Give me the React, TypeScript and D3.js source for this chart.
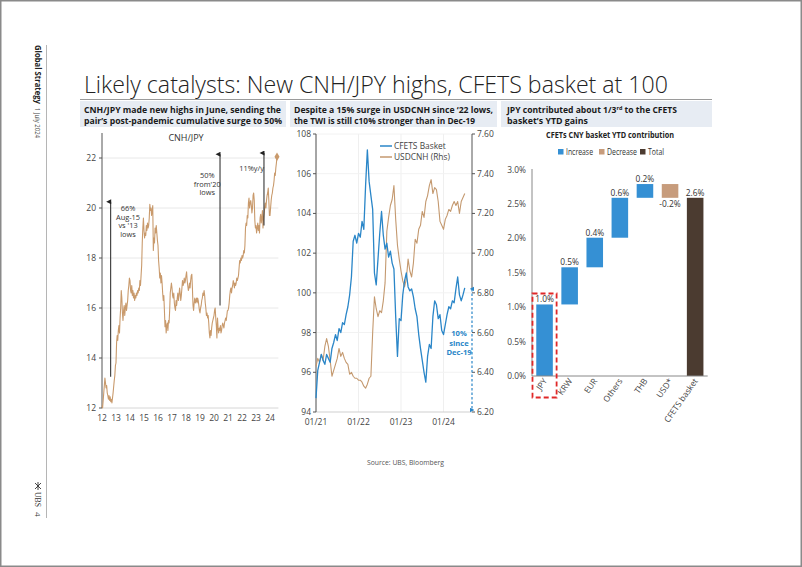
import React from "react";
import * as d3 from "d3";

const FONT = "'Open Sans', 'Noto Sans', 'DejaVu Sans', sans-serif";

// ---------- CNH/JPY (semi-monthly, from 2012.0) ----------
const cnhJpy2012 = [12.1, 12.0, 12.3, 12.6, 12.9, 13.2, 13.0, 12.8, 12.9, 12.6, 12.5, 12.35, 12.5, 12.3, 12.45, 12.25, 12.35, 12.2, 12.4, 12.6, 12.85, 13.1, 13.3, 13.7];
const cnhJpy2013 = [13.8, 14.6, 14.9, 14.7, 15.1, 15.3, 15.0, 15.6, 16.0, 16.7, 16.4, 15.8, 15.5, 15.9, 16.1, 15.7, 16.0, 16.2, 15.9, 16.1, 16.3, 16.7, 16.9, 17.2];
const cnhJpy2014 = [17.1, 16.7, 16.6, 16.9, 16.5, 16.7, 16.4, 16.6, 16.3, 16.5, 16.4, 16.6, 16.5, 16.7, 16.6, 16.8, 16.7, 17.1, 16.9, 17.3, 17.7, 18.6, 19.2, 19.6];
const cnhJpy2015 = [19.1, 18.8, 19.0, 18.9, 19.3, 19.1, 19.4, 19.2, 19.3, 19.6, 20.15, 19.9, 20.0, 19.7, 19.9, 20.1, 18.3, 18.8, 18.6, 19.2, 19.0, 19.3, 19.0, 18.7];
const cnhJpy2016 = [18.5, 17.9, 17.6, 17.2, 17.4, 17.0, 17.3, 17.0, 16.6, 16.3, 16.5, 15.9, 15.25, 15.5, 15.0, 15.3, 15.4, 15.1, 15.5, 15.4, 15.9, 16.6, 16.8, 17.0];
const cnhJpy2017 = [16.8, 16.5, 16.4, 16.6, 16.2, 16.0, 15.9, 16.3, 16.1, 16.4, 16.6, 16.3, 16.5, 16.8, 16.6, 16.3, 16.5, 16.8, 17.1, 16.9, 17.0, 17.2, 17.0, 17.1];
const cnhJpy2018 = [17.3, 17.45, 17.1, 16.9, 16.7, 16.8, 17.0, 16.8, 17.1, 17.3, 17.35, 16.8, 16.1, 15.9, 16.2, 16.4, 16.2, 16.3, 16.4, 16.2, 16.4, 16.3, 16.1, 15.9];
const cnhJpy2019 = [15.8, 16.0, 16.1, 16.3, 16.4, 16.6, 16.5, 16.7, 16.5, 16.2, 16.0, 15.7, 15.8, 15.6, 15.7, 15.4, 15.0, 14.8, 15.1, 14.9, 15.2, 15.4, 15.5, 15.6];
const cnhJpy2020 = [15.7, 15.9, 16.0, 15.6, 15.3, 14.8, 15.6, 15.2, 15.0, 15.2, 15.1, 15.3, 15.0, 15.1, 15.3, 15.4, 15.3, 15.2, 15.4, 15.5, 15.6, 15.5, 15.7, 15.9];
const cnhJpy2021 = [15.9, 16.0, 16.2, 16.5, 16.7, 16.8, 16.6, 16.8, 16.9, 17.1, 17.0, 16.8, 17.0, 16.9, 17.0, 17.2, 17.1, 17.2, 17.3, 17.6, 17.9, 17.8, 18.0, 17.9];
const cnhJpy2022 = [18.1, 18.0, 18.1, 18.3, 18.2, 18.5, 19.2, 19.4, 19.3, 19.7, 19.6, 20.2, 20.4, 20.0, 20.2, 20.3, 20.1, 19.8, 20.0, 20.5, 20.6, 20.3, 19.5, 19.2];
const cnhJpy2023 = [19.3, 19.0, 19.2, 19.4, 19.1, 19.3, 19.0, 19.6, 19.75, 19.4, 19.6, 19.9, 19.2, 19.6, 19.8, 20.0, 20.2, 20.0, 20.3, 20.5, 20.6, 20.8, 20.3, 19.7];
const cnhJpy2024 = [19.7, 20.0, 20.3, 20.5, 20.6, 20.8, 20.9, 21.1, 21.4, 21.3, 21.6, 21.8, 22.05];
const cnhJpy = [
  ...cnhJpy2012, ...cnhJpy2013, ...cnhJpy2014, ...cnhJpy2015, ...cnhJpy2016, ...cnhJpy2017,
  ...cnhJpy2018, ...cnhJpy2019, ...cnhJpy2020, ...cnhJpy2021, ...cnhJpy2022, ...cnhJpy2023, ...cnhJpy2024,
];
const leftYTicks = [12, 14, 16, 18, 20, 22];
const leftXTicks = [2012, 2013, 2014, 2015, 2016, 2017, 2018, 2019, 2020, 2021, 2022, 2023, 2024];
const leftArrows = [
  { year: 2012.62, from: 13.25, to: 20.25 },
  { year: 2020.43, from: 16.1, to: 22.15 },
  { year: 2023.57, from: 19.3, to: 22.2 },
];
const leftNotes = [
  { year: 2013.86, value: 19.88, lines: ["66%", "Aug-15", "vs '13", "lows"] },
  { year: 2019.52, value: 21.2, lines: ["50%", "from'20", "lows"] },
  { year: 2022.69, value: 21.48, lines: ["11%y/y"] },
];

// ---------- CFETS basket & USDCNH (semi-monthly, from 2021.0) ----------
const cfets2021 = [94.7, 96.1, 96.5, 96.9, 96.6, 96.4, 96.9, 96.7, 96.5, 97.2, 97.5, 97.9, 97.6, 98.2, 98.0, 98.5, 98.4, 98.9, 99.3, 99.9, 100.8, 102.6, 102.9, 102.5];
const cfets2022 = [103.0, 102.8, 103.6, 103.2, 105.4, 107.2, 105.6, 104.9, 104.2, 101.0, 100.4, 101.7, 103.0, 104.1, 102.9, 102.2, 102.5, 101.8, 102.1, 101.5, 101.2, 98.8, 96.8, 98.7];
const cfets2023 = [98.6, 99.9, 100.6, 101.0, 100.3, 100.1, 100.2, 99.8, 99.2, 98.8, 97.9, 97.2, 96.6, 96.0, 95.5, 96.8, 97.4, 97.2, 98.8, 99.6, 99.4, 98.7, 98.9, 98.1];
const cfets2024 = [97.9, 98.4, 98.9, 99.3, 99.2, 99.6, 99.5, 100.2, 100.8, 99.9, 99.6, 99.9, 100.25];
const cfets = [...cfets2021, ...cfets2022, ...cfets2023, ...cfets2024];

const usdcnh2021 = [6.43, 6.47, 6.45, 6.49, 6.46, 6.53, 6.57, 6.53, 6.46, 6.38, 6.41, 6.44, 6.47, 6.52, 6.48, 6.50, 6.47, 6.45, 6.44, 6.39, 6.40, 6.38, 6.37, 6.37];
const usdcnh2022 = [6.36, 6.36, 6.35, 6.33, 6.32, 6.34, 6.37, 6.38, 6.60, 6.78, 6.72, 6.68, 6.71, 6.70, 6.76, 6.85, 7.11, 7.18, 7.24, 7.27, 7.34, 7.17, 7.04, 6.97];
const usdcnh2023 = [6.91, 6.86, 6.83, 6.87, 6.97, 6.91, 6.88, 6.95, 7.07, 7.05, 7.12, 7.14, 7.21, 7.18, 7.26, 7.29, 7.34, 7.37, 7.30, 7.33, 7.32, 7.26, 7.16, 7.14];
const usdcnh2024 = [7.12, 7.17, 7.19, 7.22, 7.21, 7.24, 7.26, 7.24, 7.26, 7.20, 7.26, 7.28, 7.30];
const usdcnh = [...usdcnh2021, ...usdcnh2022, ...usdcnh2023, ...usdcnh2024];

const midLeftTicks = [94, 96, 98, 100, 102, 104, 106, 108];
const midRightTicks = [6.2, 6.4, 6.6, 6.8, 7.0, 7.2, 7.4, 7.6];
const midXTicks = [2021, 2022, 2023, 2024];
const midXLabels = ["01/21", "01/22", "01/23", "01/24"];
const midNote = ["10%", "since", "Dec-19"];

// ---------- Waterfall ----------
const wfCats = ["JPY", "KRW", "EUR", "Others", "THB", "USD*", "CFETS basket"];
const wfValues = [1.04, 0.54, 0.43, 0.58, 0.2, -0.2];
const wfTicks = [0, 0.5, 1.0, 1.5, 2.0, 2.5, 3.0];
const wfLegend = ["Increase", "Decrease", "Total"];

const C_INC = "#3590d4";
const C_DEC = "#c79c7c";
const C_TOT = "#4b3b30";
const C_LEFT = "#c99a6c";
const C_BLUE = "#2a86c8";
const C_BROWN = "#c4996f";

export default function App() {
  // left chart scales
  const lx = d3.scaleLinear().domain([2012, 2024.6]).range([102, 278.4]);
  const ly = d3.scaleLinear().domain([12, 23]).range([408, 133]);
  const lLine = d3.line<number>().x((_, i) => lx(2012 + i / 24)).y((d) => ly(d));
  const lastIdx = cnhJpy.length - 1;

  // middle chart scales
  const mx = d3.scaleLinear().domain([2021, 2024.67]).range([316, 472]);
  const myL = d3.scaleLinear().domain([94, 108]).range([412, 134]);
  const myR = d3.scaleLinear().domain([6.2, 7.6]).range([412, 134]);
  const cLine = d3.line<number>().x((_, i) => mx(2021 + i / 24)).y((d) => myL(d));
  const uLine = d3.line<number>().x((_, i) => mx(2021 + i / 24)).y((d) => myR(d));

  // waterfall
  const wx = d3.scaleBand<string>().domain(wfCats).range([532, 707.7]).paddingInner(0.34).paddingOuter(0.17);
  const wy = d3.scaleLinear().domain([0, 3]).range([376, 169.6]);
  let run = 0;
  const wfBars = wfValues.map((v, i) => {
    const start = run;
    run += v;
    return { cat: wfCats[i], start, end: run, v, kind: v >= 0 ? "inc" : "dec" };
  });
  wfBars.push({ cat: wfCats[6], start: 0, end: run, v: run, kind: "tot" });
  const colorOf = (k: string) => (k === "inc" ? C_INC : k === "dec" ? C_DEC : C_TOT);
  const jpyX = (wx("JPY") as number) - wx.step() * 0.17;

  const axisCol = "#555";
  const tickTxt = "#444";
  const legX = [558, 599, 640];
  const legW = [27, 30, 16];

  return (
    <svg width={802} height={567} style={{ position: "absolute", left: 0, top: 0, background: "#fff" }} fontFamily={FONT}>
      <defs>
        <marker id="arr" viewBox="0 0 10 10" refX="5" refY="9" markerWidth="5" markerHeight="6" orient="auto-start-reverse">
          <path d="M0,10 L5,0 L10,10 Z" fill="#222" />
        </marker>
        <marker id="arrb" viewBox="0 0 10 10" refX="5" refY="5" markerWidth="4" markerHeight="4" orient="auto-start-reverse">
          <path d="M0,10 L5,0 L10,10 Z" fill={C_BLUE} />
        </marker>
      </defs>
      <rect x={0.75} y={0.75} width={800.5} height={565.5} fill="#fff" stroke="#8a8a8a" strokeWidth={1.5} />

      {/* sidebar */}
      <line x1={46.5} y1={45} x2={46.5} y2={518} stroke="#b5b5b5" strokeWidth={1} />
      <text transform="translate(35,45) rotate(90)" fontSize={8.5} fontWeight={700} fill="#222" textLength={59} lengthAdjust="spacingAndGlyphs">Global Strategy</text>
      <text transform="translate(35,108) rotate(90)" fontSize={8} fill="#444" textLength={30} lengthAdjust="spacingAndGlyphs">1 July 2024</text>
      <g stroke="#333" strokeWidth={0.9}>
        <line x1={35} y1={483} x2={41} y2={489} />
        <line x1={35} y1={489} x2={41} y2={483} />
        <line x1={38} y1={482} x2={38} y2={490} />
      </g>
      <text transform="translate(35,492) rotate(90)" fontSize={8.5} fill="#333" fontFamily="'Liberation Serif', 'DejaVu Serif', serif" textLength={15} lengthAdjust="spacingAndGlyphs">UBS</text>
      <text transform="translate(35,512) rotate(90)" fontSize={8} fill="#333">4</text>

      {/* title */}
      <text x={84} y={93} fontSize={23} fontWeight={300} fill="#222" textLength={584} lengthAdjust="spacingAndGlyphs">Likely catalysts: New CNH/JPY highs, CFETS basket at 100</text>
      <line x1={80} y1={99.5} x2={712} y2={99.5} stroke="#9a9a9a" strokeWidth={1} />

      {/* headers */}
      <rect x={80} y={101} width={206} height={26} fill="#e7ecf3" />
      <rect x={290} y={101} width={207} height={26} fill="#e7ecf3" />
      <rect x={501} y={101} width={211} height={26} fill="#e7ecf3" />
      <g fontSize={9.4} fontWeight={700} fill="#1a1a1a">
        <text x={84} y={113} textLength={197} lengthAdjust="spacingAndGlyphs">CNH/JPY made new highs in June, sending the</text>
        <text x={84} y={124} textLength={198} lengthAdjust="spacingAndGlyphs">pair’s post-pandemic cumulative surge to 50%</text>
        <text x={294} y={113} textLength={199} lengthAdjust="spacingAndGlyphs">Despite a 15% surge in USDCNH since ‘22 lows,</text>
        <text x={294} y={124} textLength={181} lengthAdjust="spacingAndGlyphs">the TWI is still c10% stronger than in Dec-19</text>
        <text x={507} y={113} textLength={170} lengthAdjust="spacingAndGlyphs">JPY contributed about 1/3<tspan fontSize={6} dy={-3}>rd</tspan><tspan dy={3}> to the CFETS</tspan></text>
        <text x={507} y={124} textLength={81} lengthAdjust="spacingAndGlyphs">basket’s YTD gains</text>
      </g>

      {/* ===== Left chart: CNH/JPY ===== */}
      <text x={186} y={141} fontSize={9} fill="#333" textAnchor="middle">CNH/JPY</text>
      {leftYTicks.map((t) => (
        <g key={"lg" + t}>
          {t > 12 && <line x1={lx(2012)} x2={lx(2024.6)} y1={ly(t)} y2={ly(t)} stroke="#e8e8e8" />}
          <line x1={lx(2012) - 3} x2={lx(2012)} y1={ly(t)} y2={ly(t)} stroke={axisCol} />
          <text x={lx(2012) - 6} y={ly(t) + 3} fontSize={8.5} fill={tickTxt} textAnchor="end">{t}</text>
        </g>
      ))}
      <line x1={lx(2012)} x2={lx(2024.6)} y1={ly(12)} y2={ly(12)} stroke="#d6d6d6" />
      <line x1={lx(2012)} x2={lx(2012)} y1={ly(23)} y2={ly(12)} stroke={axisCol} />
      {leftXTicks.map((t) => (
        <text key={"lx" + t} x={lx(t)} y={421} fontSize={8.5} fill={tickTxt} textAnchor="middle">{String(t - 2000)}</text>
      ))}
      <path d={lLine(cnhJpy) || ""} fill="none" stroke={C_LEFT} strokeWidth={1.1} strokeLinejoin="round" />
      <path
        d={d3.symbol(d3.symbolDiamond, 22)() || ""}
        transform={`translate(${lx(2012 + lastIdx / 24)},${ly(cnhJpy[lastIdx])})`}
        fill={C_LEFT}
      />
      {leftArrows.map((a, i) => (
        <line key={"la" + i} x1={lx(a.year)} x2={lx(a.year)} y1={ly(a.from)} y2={ly(a.to)} stroke="#222" strokeWidth={1} markerEnd="url(#arr)" />
      ))}
      {leftNotes.map((n, i) => (
        <text key={"ln" + i} x={lx(n.year)} y={ly(n.value)} fontSize={7.4} fill="#333" textAnchor="middle">
          {n.lines.map((l, j) => (
            <tspan key={j} x={lx(n.year)} dy={j === 0 ? 0 : 8.6}>{l}</tspan>
          ))}
        </text>
      ))}

      {/* ===== Middle chart ===== */}
      {midXTicks.map((t) => (
        <line key={"mg" + t} x1={mx(t)} x2={mx(t)} y1={134} y2={412} stroke="#efefef" />
      ))}
      {midLeftTicks.map((t) => (
        <g key={"ml" + t}>
          {t > 94 && <line x1={316} x2={472} y1={myL(t)} y2={myL(t)} stroke="#f2f2f2" />}
          <line x1={313} x2={316} y1={myL(t)} y2={myL(t)} stroke={axisCol} />
          <text x={311} y={myL(t) + 3} fontSize={8.5} fill={tickTxt} textAnchor="end">{t}</text>
        </g>
      ))}
      {midRightTicks.map((t) => (
        <g key={"mr" + t}>
          <line x1={472} x2={475} y1={myR(t)} y2={myR(t)} stroke={axisCol} />
          <text x={477} y={myR(t) + 3} fontSize={8.5} fill={tickTxt} textAnchor="start">{t.toFixed(2)}</text>
        </g>
      ))}
      <line x1={316} x2={472} y1={412} y2={412} stroke="#cfcfcf" />
      <line x1={316} x2={316} y1={134} y2={412} stroke={axisCol} />
      <line x1={472} x2={472} y1={134} y2={myR(6.82)} stroke={axisCol} />
      {midXTicks.map((t, i) => (
        <text key={"mxl" + t} x={mx(t)} y={424.5} fontSize={8.5} fill={tickTxt} textAnchor="middle">{midXLabels[i]}</text>
      ))}
      <path d={uLine(usdcnh) || ""} fill="none" stroke={C_BROWN} strokeWidth={1.1} strokeLinejoin="round" />
      <path d={cLine(cfets) || ""} fill="none" stroke={C_BLUE} strokeWidth={1.3} strokeLinejoin="round" />
      <line x1={472} x2={472} y1={myR(6.82)} y2={410} stroke={C_BLUE} strokeWidth={1.2} strokeDasharray="2.5,2" markerStart="url(#arrb)" markerEnd="url(#arrb)" />
      <text x={459} y={336} fontSize={7.6} fontWeight={700} fill={C_BLUE} textAnchor="middle">
        {midNote.map((l, j) => (
          <tspan key={j} x={459} dy={j === 0 ? 0 : 9.5}>{l}</tspan>
        ))}
      </text>
      {/* legend */}
      <line x1={380} x2={392} y1={146} y2={146} stroke={C_BLUE} strokeWidth={1.5} />
      <text x={394} y={149} fontSize={8.4} fill="#444">CFETS Basket</text>
      <line x1={380} x2={392} y1={157} y2={157} stroke={C_BROWN} strokeWidth={1.5} />
      <text x={394} y={160} fontSize={8.4} fill="#444">USDCNH (Rhs)</text>

      {/* ===== Waterfall ===== */}
      <text x={610} y={138} fontSize={8} fontWeight={700} fill="#222" textAnchor="middle" textLength={128} lengthAdjust="spacingAndGlyphs">CFETs CNY basket YTD contribution</text>
      {wfLegend.map((l, i) => {
        const col = [C_INC, C_DEC, C_TOT][i];
        return (
          <g key={"wl" + i}>
            <rect x={legX[i]} y={149} width={5.5} height={5.5} fill={col} />
            <text x={legX[i] + 8} y={155} fontSize={8.2} fill="#333" textLength={legW[i]} lengthAdjust="spacingAndGlyphs">{l}</text>
          </g>
        );
      })}
      {wfTicks.map((t) => (
        <text key={"wt" + t} x={526} y={wy(t) + 3} fontSize={8.4} fill={tickTxt} textAnchor="end">{t.toFixed(1) + "%"}</text>
      ))}
      {wfBars.map((b) => {
        const top = wy(Math.max(b.start, b.end));
        const bot = wy(Math.min(b.start, b.end));
        const x0 = wx(b.cat) as number;
        const cx = x0 + wx.bandwidth() / 2;
        const label = b.v.toFixed(1) + "%";
        return (
          <g key={"wb" + b.cat}>
            <rect x={x0} y={top} width={wx.bandwidth()} height={bot - top} fill={colorOf(b.kind)} />
            <text x={cx} y={b.v >= 0 ? top - 2 : bot + 9} fontSize={8.4} fill="#333" textAnchor="middle">{label}</text>
            <text transform={`translate(${cx + 3},${381}) rotate(-55)`} fontSize={8.4} fill="#444" textAnchor="end">{b.cat}</text>
          </g>
        );
      })}
      <line x1={532} x2={532} y1={169} y2={376} stroke="#888" />
      <line x1={532} x2={707.7} y1={376} y2={376} stroke="#888" />
      <rect x={jpyX + 0.5} y={293.5} width={wx.step() - 1} height={104} fill="none" stroke="#e02828" strokeWidth={1.8} strokeDasharray="5,3" />

      {/* source */}
      <text x={367} y={465} fontSize={6.8} fill="#555">Source: UBS, Bloomberg</text>
    </svg>
  );
}
